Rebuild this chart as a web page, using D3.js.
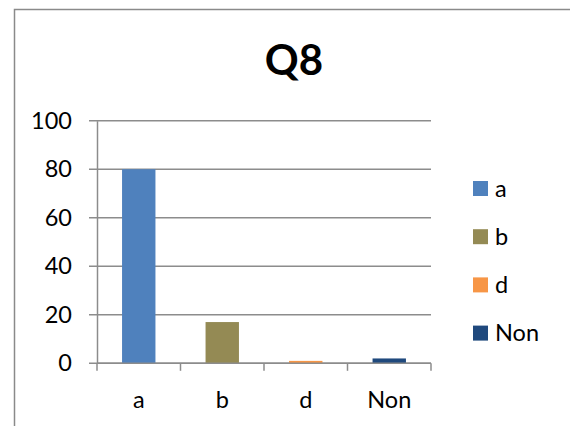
<!DOCTYPE html>
<html>
<head>
<meta charset="utf-8">
<script src="https://cdn.jsdelivr.net/npm/d3@7"></script>
<style>
  body { margin: 0; background: #fff; }
  svg { display: block; font-family: Lato, Calibri, 'Open Sans', sans-serif; }
</style>
</head>
<body>
<div id="chart"></div>
<script>
// datos del gráfico
var categories = ['a', 'b', 'd', 'Non']
var values = [80, 17, 1, 2]
var colors = ['#4F81BD', '#948A54', '#F79646', '#1F497D']
var yTicks = [0, 20, 40, 60, 80, 100]

var width = 570
var height = 426

var svg = d3
  .select('#chart')
  .append('svg')
  .attr('width', width)
  .attr('height', height)

// marco del gráfico
svg
  .append('rect')
  .attr('x', 14.5)
  .attr('y', 9.5)
  .attr('width', 600)
  .attr('height', 500)
  .attr('fill', 'none')
  .attr('stroke', '#8a8a8a')
  .attr('stroke-width', 1.5)

var plot = { left: 97, right: 431, top: 120.7, bottom: 363.3 }

var xscale = d3
  .scaleBand()
  .domain(categories)
  .range([plot.left, plot.right])
  .paddingInner(0.6)
  .paddingOuter(0.3)

var xband = d3.scaleBand().domain(categories).range([plot.left, plot.right])

var yscale = d3.scaleLinear().domain([0, 100]).range([plot.bottom, plot.top])

// líneas de cuadrícula
svg
  .append('g')
  .selectAll('line')
  .data(yTicks)
  .enter()
  .append('line')
  .attr('x1', plot.left - 8)
  .attr('x2', plot.right)
  .attr('y1', (d) => yscale(d))
  .attr('y2', (d) => yscale(d))
  .attr('stroke', '#8c8c8c')
  .attr('stroke-width', 1.5)

// eje Y
var yaxis = d3
  .axisLeft(yscale)
  .tickValues(yTicks)
  .tickSize(0)
  .tickPadding(25)
var gy = svg
  .append('g')
  .attr('transform', 'translate(' + plot.left + ',0)')
  .call(yaxis)
gy.select('.domain').attr('stroke', '#8c8c8c').attr('stroke-width', 1.5)
gy.selectAll('text')
  .attr('font-size', 23.5)
  .attr('fill', '#000')
  .attr('font-family', 'Lato, sans-serif')

// eje X con marcas entre categorías
var xaxis = d3.axisBottom(xscale).tickSize(0).tickPadding(28)
var gx = svg
  .append('g')
  .attr('transform', 'translate(0,' + plot.bottom + ')')
  .call(xaxis)
gx.select('.domain').remove()
gx.selectAll('text')
  .attr('font-size', 23.5)
  .attr('fill', '#000')
  .attr('font-family', 'Lato, sans-serif')

var bounds = categories.map((c) => xband(c)).concat([plot.right])
svg
  .append('g')
  .selectAll('line')
  .data(bounds)
  .enter()
  .append('line')
  .attr('x1', (d) => d)
  .attr('x2', (d) => d)
  .attr('y1', plot.bottom)
  .attr('y2', plot.bottom + 7.5)
  .attr('stroke', '#8c8c8c')
  .attr('stroke-width', 1.5)

// barras
svg
  .append('g')
  .selectAll('rect')
  .data(values)
  .enter()
  .append('rect')
  .attr('x', (d, i) => xscale(categories[i]))
  .attr('y', (d) => yscale(d))
  .attr('width', xscale.bandwidth())
  .attr('height', (d) => yscale(0) - yscale(d))
  .attr('fill', (d, i) => colors[i])

// línea base encima de las barras
svg
  .append('line')
  .attr('x1', plot.left)
  .attr('x2', plot.right)
  .attr('y1', plot.bottom)
  .attr('y2', plot.bottom)
  .attr('stroke', '#8c8c8c')
  .attr('stroke-width', 1.5)

// título
svg
  .append('text')
  .attr('x', 294)
  .attr('y', 75)
  .attr('text-anchor', 'middle')
  .attr('font-size', 42)
  .attr('font-weight', 'bold')
  .text('Q8')

// leyenda
var legend = svg
  .append('g')
  .selectAll('g')
  .data(categories)
  .enter()
  .append('g')
  .attr('transform', (d, i) => 'translate(473,' + (181 + i * 48.2) + ')')

legend
  .append('rect')
  .attr('width', 15)
  .attr('height', 15)
  .attr('fill', (d, i) => colors[i])

legend
  .append('text')
  .attr('x', 22)
  .attr('y', 15.5)
  .attr('font-size', 23.5)
  .text((d) => d)
</script>
</body>
</html>
